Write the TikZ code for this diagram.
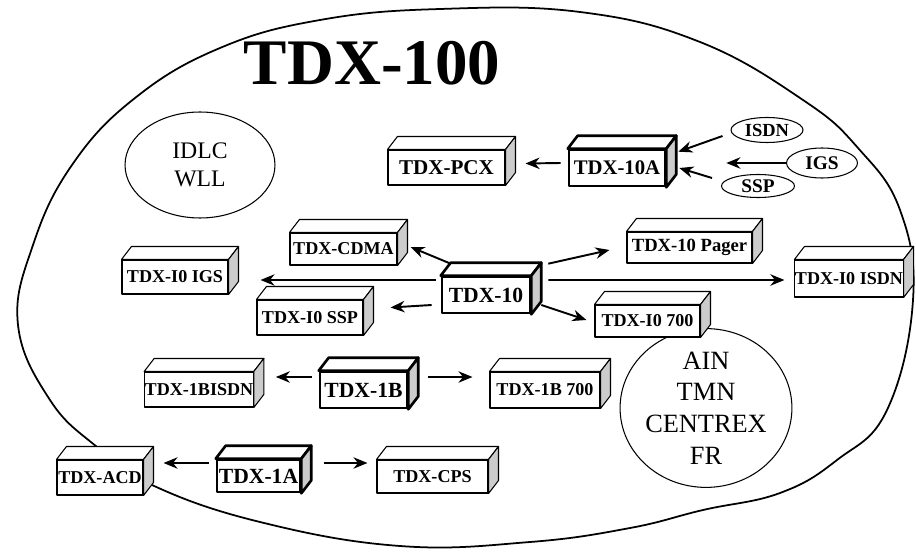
\documentclass[tikz,border=0pt]{standalone}
\usepackage{fontspec}
\setmainfont{Liberation Serif}
\usetikzlibrary{arrows.meta,shapes.geometric}

\tikzset{
  unit/.style={draw, fill=white, inner sep=0pt, line width=0.6pt, font=\bfseries\fontsize{10.3}{12}\selectfont},
  bigunit/.style={unit, line width=1.5pt, font=\bfseries\fontsize{12.3}{14}\selectfont},
  feed/.style={draw, ellipse, inner sep=0pt, line width=0.6pt, font=\bfseries\fontsize{10.5}{12}\selectfont},
  service/.style={draw, ellipse, inner sep=0pt, line width=0.6pt, align=center},
  arr/.style={line width=1.1pt, -{Stealth[length=8pt,width=6.5pt]}},
}

\begin{document}
\begin{tikzpicture}[x=0.02cm, y=-0.02cm, line join=round]
    \useasboundingbox (0,0) rectangle (916,557);

    % Grosse Umrandung
    \draw[line width=1pt] plot[smooth cycle, tension=0.7] coordinates {
        (913,300) (900,210) (858,148) (803,100) (700,42) (580,12) (440,9)
        (320,20) (220,48) (135,98) (72,165) (33,245) (18,325) (50,400) (97,447)
        (152,485) (260,522) (400,546) (530,542) (630,528) (703,510)
        (780,493) (837,460) (887,410)};

    % Titel
    \node (title) at (372,63) {\bfseries\fontsize{37}{40}\selectfont TDX-100};

    % Dienste
    \node[service, minimum width=3cm, minimum height=2.12cm,
          font=\fontsize{13.5}{16}\selectfont] (idlc) at (200,165) {IDLC\\WLL};
    \node[service, minimum width=2.84cm, minimum height=2.54cm,
          font=\fontsize{15}{18}\selectfont] (ain) at (706,408) {AIN\\TMN\\CENTREX\\FR};

    % Netze
    \node[feed, minimum width=1.44cm, minimum height=0.5cm] (isdnE) at (767,130) {ISDN};
    \node[feed, minimum width=1.42cm, minimum height=0.6cm, font=\bfseries\fontsize{11}{12}\selectfont] (igsE) at (822,163) {IGS};
    \node[feed, minimum width=1.46cm, minimum height=0.46cm, font=\bfseries\fontsize{11}{12}\selectfont] (sspE) at (758,186) {SSP};

    % Vermittlungen
    \node[unit, minimum width=2.34cm, minimum height=0.7cm, font=\bfseries\fontsize{12}{14}\selectfont] (pcx) at (446.5,167.5) {TDX-PCX};
    \node[bigunit, minimum width=1.92cm, minimum height=0.72cm, font=\bfseries\fontsize{11.8}{14}\selectfont] (a10) at (617,168) {TDX-10A};
    \node[unit, minimum width=2.14cm, minimum height=0.64cm] (cdma) at (343.5,249) {TDX-CDMA};
    \node[unit, minimum width=2.12cm, minimum height=0.68cm] (igs10) at (175,277) {TDX-I0 IGS};
    \node[unit, minimum width=2.12cm, minimum height=0.7cm] (ssp10) at (310,317.5) {TDX-I0 SSP};
    \node[bigunit, minimum width=1.76cm, minimum height=0.72cm] (t10) at (486,295) {TDX-10};
    \node[unit, minimum width=2.5cm, minimum height=0.62cm, font=\bfseries\fontsize{10.6}{12}\selectfont] (pager) at (689.5,247.5) {TDX-10 Pager};
    \node[unit, minimum width=2.16cm, minimum height=0.74cm] (isdn10) at (849,278.5) {TDX-I0 ISDN};
    \node[unit, minimum width=2.1cm, minimum height=0.64cm] (i700) at (647.5,321) {TDX-I0 700};
    \node[unit, minimum width=2.16cm, minimum height=0.7cm] (bisdn) at (199,389.5) {TDX-1BISDN};
    \node[bigunit, minimum width=1.74cm, minimum height=0.72cm] (t1b) at (363.5,390) {TDX-1B};
    \node[unit, minimum width=2.2cm, minimum height=0.72cm] (b700) at (545,390) {TDX-1B 700};
    \node[unit, minimum width=1.72cm, minimum height=0.7cm] (acd) at (100,477.5) {TDX-ACD};
    \node[bigunit, minimum width=1.66cm, minimum height=0.64cm] (t1a) at (258.5,476) {TDX-1A};
    \node[unit, minimum width=2.22cm, minimum height=0.66cm] (cps) at (432.5,476.5) {TDX-CPS};

    % Kastendeckel und Seiten
    \foreach \n/\lw in {pcx/0.6pt, a10/1.5pt, cdma/0.6pt, igs10/0.6pt, ssp10/0.6pt,
                        t10/1.5pt, pager/0.6pt, isdn10/0.6pt, i700/0.6pt, bisdn/0.6pt,
                        t1b/1.5pt, b700/0.6pt, acd/0.6pt, t1a/1.5pt, cps/0.6pt}{
        \draw[line width=\lw, fill=white] (\n.north west) -- ++(10,-13)
            -- ([shift={(10,-13)}]\n.north east) -- (\n.north east) -- cycle;
        \draw[line width=\lw, fill=black!20] (\n.north east) -- ++(10,-13)
            -- ([shift={(10,-13)}]\n.south east) -- (\n.south east) -- cycle;
    }

    % Pfeile
    \draw[arr] ([shift={(-7,-5)}]a10.west) -- ([shift={(20,-4)}]pcx.east);
    \draw[arr] ([shift={(-8,6)}]isdnE.west) -- ([shift={(12,3)}]a10.north east);
    \draw[arr] (igsE.west) -- ([shift={(60,-5)}]a10.east);
    \draw[arr] ([shift={(-9,-8)}]sspE.west) -- ([shift={(13,0)}]a10.east);

    \draw[arr] ([shift={(10,-12)}]t10.north west) -- ([shift={(13,-2)}]cdma.east);
    \draw[arr] ([shift={(-5,-15)}]t10.west) -- ([shift={(32,3)}]igs10.east);
    \draw[arr] ([shift={(-9,10)}]t10.west) -- ([shift={(27,-10)}]ssp10.east);
    \draw[arr] ([shift={(17,-12)}]t10.north east) -- ([shift={(-17,2.5)}]pager.west);
    \draw[arr] ([shift={(17,-15)}]t10.east) -- ([shift={(-10,1.5)}]isdn10.west);
    \draw[arr] ([shift={(10,10)}]t10.east) -- ([shift={(-8,-1)}]i700.west);

    \draw[arr] ([shift={(-7,-13)}]t1b.west) -- ([shift={(22,-12.5)}]bisdn.east);
    \draw[arr] ([shift={(20,-13)}]t1b.east) -- ([shift={(-17,-13)}]b700.west);
    \draw[arr] ([shift={(-7,-13)}]t1a.west) -- ([shift={(20,-14.5)}]acd.east);
    \draw[arr] ([shift={(23,-13)}]t1a.east) -- ([shift={(-9,-13.5)}]cps.west);
\end{tikzpicture}
\end{document}
